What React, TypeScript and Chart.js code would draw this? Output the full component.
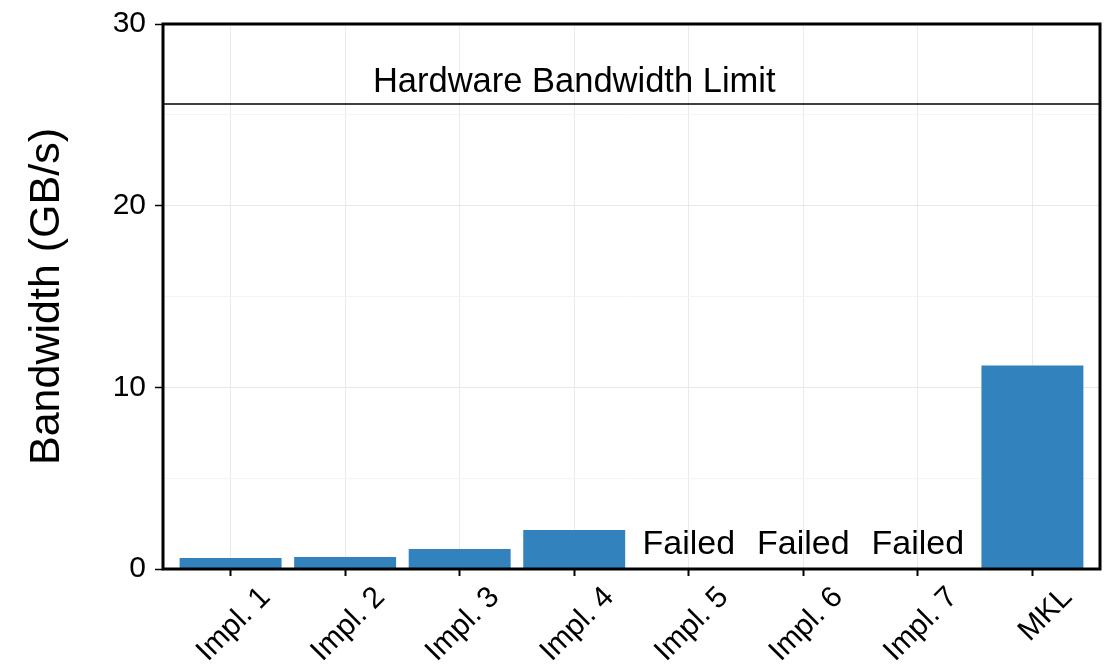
import { useEffect, useRef } from 'react';
import { Chart, registerables } from 'chart.js';

Chart.register(...registerables);

const categories = ['Impl. 1', 'Impl. 2', 'Impl. 3', 'Impl. 4', 'Impl. 5', 'Impl. 6', 'Impl. 7', 'MKL'];
const bandwidth: (number | null)[] = [0.6, 0.66, 1.1, 2.15, null, null, null, 11.2];
const failedFlags = [false, false, false, false, true, true, true, false];
const hardwareLimit = 25.6;
const hardwareLabel = 'Hardware Bandwidth Limit';
const hardwareLabelIndex = 3;
const failedLabel = 'Failed';
const yMin = 0;
const yMax = 30;
const yStep = 5;
const yLabelStep = 10;

const FONT = '"Liberation Sans", Arial, Helvetica, sans-serif';

const overlay = {
  id: 'overlay',
  afterDatasetsDraw(chart: any) {
    const { ctx, chartArea: a, scales } = chart;
    const x = scales.x;
    const y = scales.y;
    ctx.save();
    const yl = y.getPixelForValue(hardwareLimit);
    ctx.strokeStyle = '#000';
    ctx.lineWidth = 1.5;
    ctx.beginPath();
    ctx.moveTo(a.left, yl);
    ctx.lineTo(a.right, yl);
    ctx.stroke();

    ctx.fillStyle = '#000';
    ctx.textAlign = 'center';
    ctx.textBaseline = 'alphabetic';
    ctx.font = `34.5px ${FONT}`;
    ctx.fillText(hardwareLabel, x.getPixelForValue(hardwareLabelIndex), yl - 12);
    ctx.font = `34px ${FONT}`;
    failedFlags.forEach((f, i) => {
      if (f) ctx.fillText(failedLabel, x.getPixelForValue(i), y.getPixelForValue(0) - 15);
    });

    ctx.lineWidth = 3;
    ctx.strokeRect(a.left, a.top, a.right - a.left, a.bottom - a.top);
    ctx.restore();
  },
};

export default function App() {
  const ref = useRef<HTMLCanvasElement>(null);
  useEffect(() => {
    document.body.style.margin = '0';
    const canvas = ref.current!;
    const chart = new Chart(canvas, {
      type: 'bar',
      data: {
        datasets: [
          {
            data: categories.map((_, i) => ({ x: i, y: bandwidth[i] })) as any,
            backgroundColor: '#3182bd',
            barPercentage: 0.89,
            categoryPercentage: 1,
          },
        ],
      },
      options: {
        responsive: false,
        animation: false,
        layout: { padding: { top: 24, right: 8, left: 0, bottom: 0 } },
        plugins: { legend: { display: false }, tooltip: { enabled: false } },
        scales: {
          x: {
            type: 'linear',
            min: -0.59,
            max: 7.59,
            offset: false,
            afterBuildTicks: (s: any) => {
              s.ticks = categories.map((_, i) => ({ value: i }));
            },
            afterFit: (s: any) => {
              s.height = 103;
              s.paddingLeft = 0;
              s.paddingRight = 0;
            },
            ticks: {
              callback: (v: any) => categories[v] ?? '',
              minRotation: 45,
              maxRotation: 45,
              autoSkip: false,
              font: { family: FONT, size: 30 },
              color: '#000',
              padding: 4,
              labelOffset: 35,
            },
            grid: {
              offset: false,
              color: '#ebebeb',
              lineWidth: 1,
              tickColor: '#000',
              tickLength: 7,
              tickWidth: 2,
            },
            border: { display: false },
          },
          y: {
            min: yMin,
            max: yMax,
            afterFit: (s: any) => {
              s.width = 163;
              s.paddingTop = 0;
              s.paddingBottom = 0;
            },
            ticks: {
              stepSize: yStep,
              callback: (v: any) => (v % yLabelStep === 0 ? String(v) : ''),
              font: { family: FONT, size: 30 },
              color: '#000',
              padding: 9,
            },
            grid: {
              color: (c: any) => (c.tick && c.tick.value % yLabelStep === 0 ? '#e8e8e8' : '#f4f4f4'),
              lineWidth: 1,
              tickColor: (c: any) => (c.tick && c.tick.value % yLabelStep === 0 ? '#000' : 'rgba(0,0,0,0)'),
              tickLength: 8,
              tickWidth: 1.5,
            },
            border: { display: false },
            title: {
              display: true,
              text: 'Bandwidth (GB/s)',
              font: { family: FONT, size: 43 },
              color: '#000',
              padding: { top: 21, bottom: 0 },
            },
          },
        },
      },
      plugins: [overlay],
    });
    return () => chart.destroy();
  }, []);
  return <canvas ref={ref} width={1108} height={672} style={{ display: 'block' }} />;
}
